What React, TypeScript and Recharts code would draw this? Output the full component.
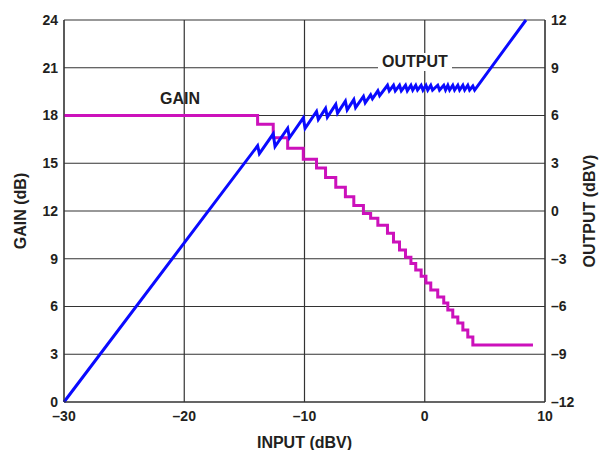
import { LineChart, Line, XAxis, YAxis, CartesianGrid, Label } from 'recharts'

const xTicks = [-30, -20, -10, 0, 10]
const gainTicks = [0, 3, 6, 9, 12, 15, 18, 21, 24]
const outputTicks = [-12, -9, -6, -3, 0, 3, 6, 9, 12]

// gain staircase: input where each step starts, and its gain
const gainInput = [
  -30, -13.9, -12.6, -11.4, -10.1, -9.0, -8.25, -7.4, -6.6, -5.9, -5.1, -4.5,
  -3.9, -3.1, -2.6, -2.1, -1.6, -1.15, -0.75, -0.3, 0.1, 0.5, 1.08, 1.58, 1.92,
  2.33, 2.75, 3.17, 3.58, 4.0, 9.0,
]
const gainDb = [
  18.0, 17.45, 16.6, 15.95, 15.25, 14.7, 14.1, 13.5, 12.9, 12.35, 11.85, 11.55,
  11.1, 10.6, 10.05, 9.55, 9.1, 8.7, 8.3, 7.9, 7.48, 7.04, 6.6, 6.22, 5.78,
  5.34, 4.96, 4.52, 4.08, 3.58, 3.58,
]

// output sawtooth (peak / trough pairs)
const outputInput = [
  -30, -13.9, -13.75, -12.6, -12.45, -11.4, -11.25, -10.1, -9.95, -9.0, -8.85,
  -8.25, -8.1, -7.4, -7.25, -6.6, -6.45, -5.9, -5.75, -5.1, -4.95, -4.5, -4.35,
  -3.9, -3.75, -3.1, -2.95, -2.6, -2.45, -2.1, -1.95, -1.6, -1.45, -1.15, -1.0,
  -0.75, -0.6, -0.3, -0.15, 0.1, 0.25, 0.5, 0.65, 1.08, 1.23, 1.58, 1.73, 1.92,
  2.07, 2.33, 2.48, 2.75, 2.9, 3.17, 3.32, 3.58, 3.73, 4.0, 4.15, 8.42,
]
const outputDbv = [
  -12, 4.1, 3.6, 4.85, 4.05, 5.2, 4.6, 5.85, 5.2, 6.25, 5.75, 6.45, 5.9, 6.7,
  6.15, 6.9, 6.35, 7.0, 6.5, 7.2, 6.8, 7.3, 7.05, 7.55, 7.25, 7.9, 7.55, 7.9,
  7.55, 7.9, 7.55, 7.9, 7.55, 7.9, 7.6, 7.9, 7.6, 7.9, 7.6, 7.9, 7.6, 7.9,
  7.6, 7.9, 7.6, 7.9, 7.6, 7.9, 7.6, 7.9, 7.6, 7.9, 7.6, 7.9, 7.6,
  7.9, 7.6, 7.85, 7.6, 12.0,
]

const gainData = gainInput.map((x, i) => ({ x, gain: gainDb[i] }))
const outputData = outputInput.map((x, i) => ({ x, out: outputDbv[i] }))

const font = 'Liberation Sans, Arial, Helvetica, sans-serif'
const ink = '#231f20'
const tickStyle = { fill: ink, fontSize: 14, fontWeight: 700, fontFamily: font }
const labelStyle = { fill: ink, fontSize: 16, fontWeight: 700, fontFamily: font, textAnchor: 'middle' as const }

const dash = (v: number) => String(v).replace('-', '\u2013')

export default function App() {
  return (
    <div style={{ position: 'fixed', left: 0, top: 0, width: 602, height: 450, background: '#fff' }}>
      <LineChart width={602} height={450} margin={{ top: 20, right: 0, bottom: 0, left: 0 }}>
        <CartesianGrid yAxisId="gain" stroke="#333" strokeWidth={1.2} />
        <XAxis
          type="number"
          dataKey="x"
          domain={[-30, 10]}
          ticks={xTicks}
          height={48}
          tick={tickStyle}
          tickLine={false}
          tickSize={6}
          tickMargin={3}
          tickFormatter={dash}
          axisLine={{ stroke: '#333' }}
          allowDuplicatedCategory={false}
        >
          <Label value="INPUT (dBV)" position="insideBottom" offset={2} style={labelStyle} />
        </XAxis>
        <YAxis
          yAxisId="gain"
          orientation="left"
          domain={[0, 24]}
          ticks={gainTicks}
          width={64}
          tick={tickStyle}
          tickLine={false}
          tickSize={4}
          tickMargin={2}
          axisLine={{ stroke: '#333' }}
        >
          <Label value="GAIN (dB)" angle={-90} position="insideLeft" offset={20} style={labelStyle} />
        </YAxis>
        <YAxis
          yAxisId="out"
          orientation="right"
          domain={[-12, 12]}
          ticks={outputTicks}
          width={57}
          tick={tickStyle}
          tickLine={false}
          tickSize={4}
          tickMargin={2}
          tickFormatter={dash}
          axisLine={{ stroke: '#333' }}
        >
          <Label value="OUTPUT (dBV)" angle={-90} position="insideRight" offset={13} style={labelStyle} />
        </YAxis>
        <Line
          yAxisId="gain"
          data={gainData}
          dataKey="gain"
          type="stepAfter"
          stroke="#cc11bb"
          strokeWidth={3}
          dot={false}
          isAnimationActive={false}
        />
        <Line
          yAxisId="out"
          data={outputData}
          dataKey="out"
          type="linear"
          stroke="#0a0aff"
          strokeWidth={3}
          dot={false}
          isAnimationActive={false}
        />
      </LineChart>
      <div
        style={{
          position: 'absolute', left: 160, top: 90, fontFamily: font, fontWeight: 700,
          fontSize: 16, color: ink, lineHeight: '18px',
        }}
      >
        GAIN
      </div>
      <div
        style={{
          position: 'absolute', left: 378, top: 53, fontFamily: font, fontWeight: 700,
          fontSize: 16, color: ink, lineHeight: '18px', background: '#fff', padding: '0 4px',
        }}
      >
        OUTPUT
      </div>
    </div>
  )
}
